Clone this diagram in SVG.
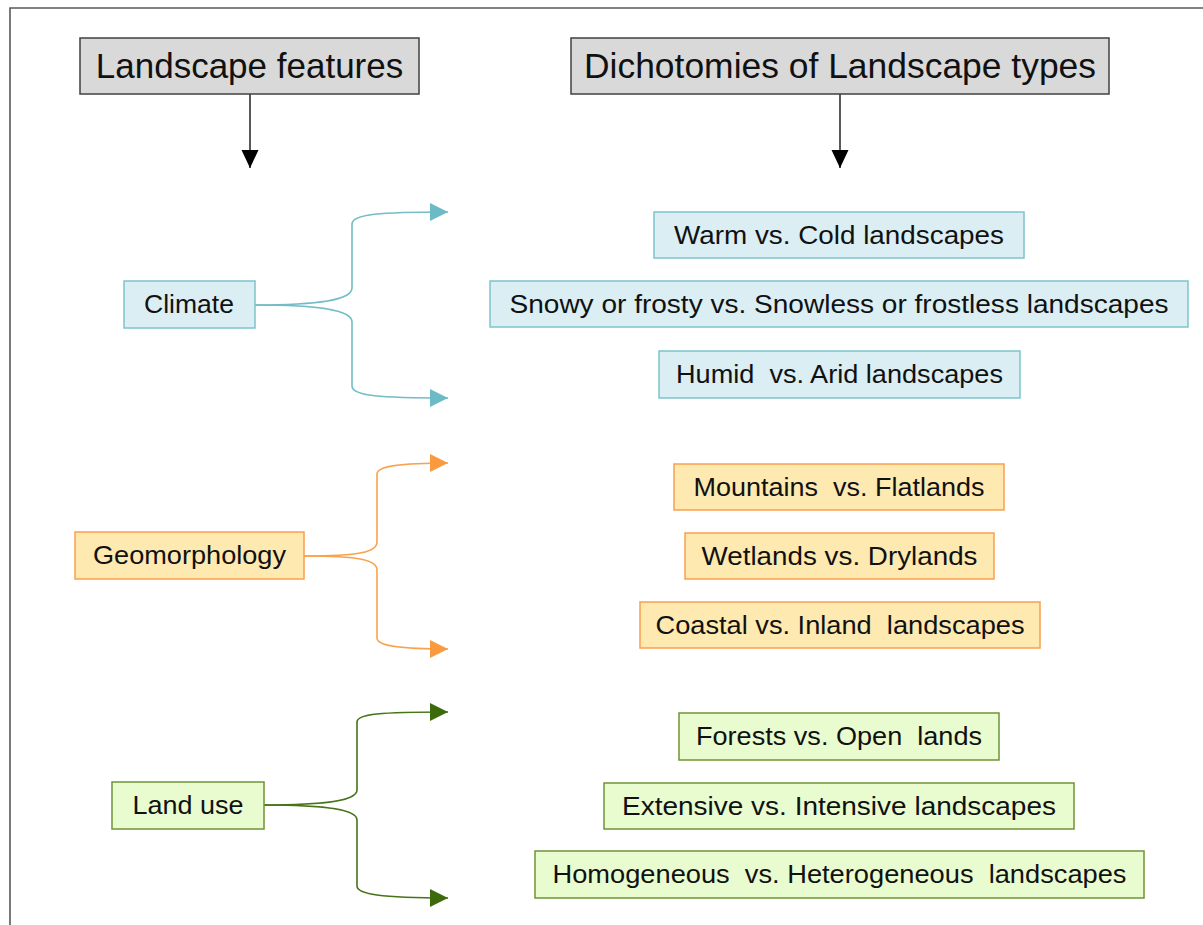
<svg xmlns="http://www.w3.org/2000/svg" width="1203" height="925" viewBox="0 0 1203 925">
<style>
text{font-family:"Liberation Sans",Arial,sans-serif;fill:#111;white-space:pre;}
.title{font-size:35px;text-anchor:middle;}
.lbl{font-size:25px;text-anchor:middle;}
.hdr{fill:#d9d9d9;stroke:#404040;stroke-width:1.5;}
.cl{fill:#daeef3;stroke:#7cc4cc;stroke-width:1.5;}
.ge{fill:#fee9b0;stroke:#f8a04e;stroke-width:1.5;}
.lu{fill:#e8fcd0;stroke:#6f9436;stroke-width:1.5;}
.c-cl{fill:none;stroke:#74bcc6;stroke-width:1.6;marker-end:url(#aCl);}
.c-ge{fill:none;stroke:#f9a24c;stroke-width:1.6;marker-end:url(#aGe);}
.c-lu{fill:none;stroke:#477417;stroke-width:1.6;marker-end:url(#aLu);}
.c-hd{fill:none;stroke:#000;stroke-width:1.3;marker-end:url(#aHd);}
</style>
<defs>
<marker id="aCl" markerUnits="userSpaceOnUse" markerWidth="18" markerHeight="18" viewBox="0 0 17 17" refX="17" refY="8.5" orient="auto"><path d="M0,0 L17,8.5 L0,17 z" fill="#6cbac6"/></marker>
<marker id="aGe" markerUnits="userSpaceOnUse" markerWidth="18" markerHeight="18" viewBox="0 0 17 17" refX="17" refY="8.5" orient="auto"><path d="M0,0 L17,8.5 L0,17 z" fill="#f99a3e"/></marker>
<marker id="aLu" markerUnits="userSpaceOnUse" markerWidth="18" markerHeight="18" viewBox="0 0 17 17" refX="17" refY="8.5" orient="auto"><path d="M0,0 L17,8.5 L0,17 z" fill="#3d6b0c"/></marker>
<marker id="aHd" markerUnits="userSpaceOnUse" markerWidth="18" markerHeight="18" viewBox="0 0 18 17" refX="18" refY="8.5" orient="auto"><path d="M0,0 L18,8.5 L0,17 z" fill="#000"/></marker>
</defs>
<rect x="0" y="0" width="1203" height="925" fill="#fff"/>
<path d="M10,925 V8 H1203" fill="none" stroke="#595959" stroke-width="1.6"/>

<g id="connectors">
<path class="c-hd" d="M250,94 V168"/>
<path class="c-hd" d="M840,94 V168"/>
<path class="c-cl" d="M255,305 C320,305 352,300 352,288 V224 C352,214 380,212 448,212"/>
<path class="c-cl" d="M255,305 C320,305 352,310 352,322 V386 C352,396 380,398 448,398"/>
<path class="c-ge" d="M304,556 C360,556 377,552 377,542 V474 C377,466 400,463 448,463"/>
<path class="c-ge" d="M304,556 C360,556 377,560 377,570 V638 C377,646 400,649 448,649"/>
<path class="c-lu" d="M264,805 C330,805 357,800 357,790 V722 C357,714 380,712 448,712"/>
<path class="c-lu" d="M264,805 C330,805 357,810 357,820 V886 C357,894 380,898 448,898"/>
</g>

<g id="landscape-features"><rect class="hdr" x="80" y="38" width="339" height="56"/><text class="title" x="249.5" y="78">Landscape features</text></g>
<g id="dichotomies"><rect class="hdr" x="571" y="38" width="538" height="56"/><text class="title" x="840" y="78" textLength="512" lengthAdjust="spacingAndGlyphs">Dichotomies of Landscape types</text></g>

<g id="climate"><rect class="cl" x="124" y="281" width="131" height="47"/><text class="lbl" x="189" y="313" textLength="90" lengthAdjust="spacingAndGlyphs">Climate</text></g>
<g id="geomorphology"><rect class="ge" x="75" y="532" width="229" height="47"/><text class="lbl" x="189.5" y="564" textLength="193" lengthAdjust="spacingAndGlyphs">Geomorphology</text></g>
<g id="land-use"><rect class="lu" x="112" y="782" width="152" height="47"/><text class="lbl" x="188" y="814" textLength="111" lengthAdjust="spacingAndGlyphs">Land use</text></g>

<g id="warm-cold"><rect class="cl" x="654" y="212" width="370" height="46"/><text class="lbl" x="839" y="244" textLength="330" lengthAdjust="spacingAndGlyphs">Warm vs. Cold landscapes</text></g>
<g id="snowy-snowless"><rect class="cl" x="490" y="281" width="698" height="46"/><text class="lbl" x="839" y="313" textLength="659" lengthAdjust="spacingAndGlyphs">Snowy or frosty vs. Snowless or frostless landscapes</text></g>
<g id="humid-arid"><rect class="cl" x="659" y="351" width="361" height="47"/><text class="lbl" x="839.5" y="383" textLength="327" lengthAdjust="spacingAndGlyphs">Humid  vs. Arid landscapes</text></g>

<g id="mountains-flatlands"><rect class="ge" x="674" y="464" width="330" height="46"/><text class="lbl" x="839" y="496" textLength="291" lengthAdjust="spacingAndGlyphs">Mountains  vs. Flatlands</text></g>
<g id="wetlands-drylands"><rect class="ge" x="685" y="533" width="309" height="46"/><text class="lbl" x="839.5" y="565" textLength="276" lengthAdjust="spacingAndGlyphs">Wetlands vs. Drylands</text></g>
<g id="coastal-inland"><rect class="ge" x="640" y="602" width="400" height="46"/><text class="lbl" x="840" y="634" textLength="369" lengthAdjust="spacingAndGlyphs">Coastal vs. Inland  landscapes</text></g>

<g id="forests-open"><rect class="lu" x="679" y="713" width="320" height="47"/><text class="lbl" x="839" y="745" textLength="286" lengthAdjust="spacingAndGlyphs">Forests vs. Open  lands</text></g>
<g id="extensive-intensive"><rect class="lu" x="604" y="783" width="470" height="46"/><text class="lbl" x="839" y="815" textLength="434" lengthAdjust="spacingAndGlyphs">Extensive vs. Intensive landscapes</text></g>
<g id="homogeneous-heterogeneous"><rect class="lu" x="535" y="851" width="609" height="47"/><text class="lbl" x="839.5" y="883" textLength="574" lengthAdjust="spacingAndGlyphs">Homogeneous  vs. Heterogeneous  landscapes</text></g>
</svg>
